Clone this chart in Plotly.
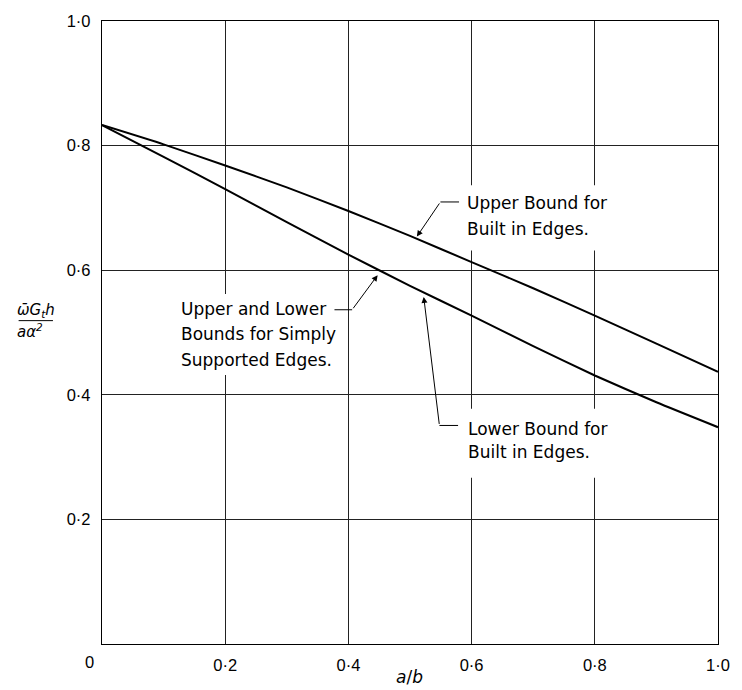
import plotly.graph_objects as go

# ---- data ----
ratio_ab = [0.0, 0.1, 0.2, 0.3, 0.4, 0.5, 0.6, 0.7, 0.8, 0.9, 1.0]
upper_built_in = [0.833, 0.802, 0.768, 0.733, 0.695, 0.655, 0.613, 0.571, 0.527, 0.482, 0.437]
lower_built_in = [0.833, 0.782, 0.730, 0.677, 0.625, 0.575, 0.527, 0.478, 0.431, 0.388, 0.348]

x_tick_vals = [0.2, 0.4, 0.6, 0.8, 1.0]
x_tick_text = ["0·2", "0·4", "0·6", "0·8", "1·0"]
y_tick_vals = [0.2, 0.4, 0.6, 0.8, 1.0]
y_tick_text = ["0·2", "0·4", "0·6", "0·8", "1·0"]

label_upper = ["Upper Bound for", "Built in Edges."]
label_simple = ["Upper and Lower", "Bounds for Simply", "Supported Edges."]
label_lower = ["Lower Bound for", "Built in Edges."]

FONT = "DejaVu Sans"
TICKFONT = "Liberation Sans"
L, R, T, B = 102, 12, 14, 46
W, H = 742, 690
PW, PH = W - L - R, H - T - B


def dx(px):
    return (px - L) / PW


def dy(py):
    return (H - B - py) / PH


fig = go.Figure()
for ys in (upper_built_in, lower_built_in):
    fig.add_trace(go.Scatter(x=ratio_ab, y=ys, mode="lines",
                             line=dict(color="black", width=2, shape="spline", smoothing=0.5),
                             showlegend=False, hoverinfo="skip"))

ann = []
shapes = []
XR, YR = "x domain", "y domain"


def gap(x0, x1, y0, y1):
    # the grid is broken where the labels sit (white patch, curves never pass here)
    shapes.append(dict(type="rect", xref=XR, yref=YR, x0=dx(x0), x1=dx(x1), y0=dy(y0), y1=dy(y1),
                       line=dict(width=0), fillcolor="white", layer="above"))


def text_lines(lines, x_px, y_px_list):
    for t, ypx in zip(lines, y_px_list):
        ann.append(dict(x=dx(x_px), y=dy(ypx), xref=XR, yref=YR, text=t, showarrow=False,
                        xanchor="left", yanchor="middle",
                        font=dict(family=FONT, size=17, color="black")))


def leader(h0, h1, tip):
    shapes.append(dict(type="line", xref=XR, yref=YR, x0=dx(h0[0]), y0=dy(h0[1]),
                       x1=dx(h1[0]), y1=dy(h1[1]), line=dict(color="black", width=1)))
    ann.append(dict(x=dx(tip[0]), y=dy(tip[1]), ax=dx(h0[0]), ay=dy(h0[1]),
                    xref=XR, yref=YR, axref=XR, ayref=YR, text="", showarrow=True,
                    arrowhead=2, arrowsize=1.2, arrowwidth=1, arrowcolor="black"))


gap(468, 618, 180, 246)
gap(220, 240, 290, 372)
gap(468, 618, 406, 476)

text_lines(label_upper, 472, [198, 224])
leader((447, 197), (466, 197), (423, 232))

text_lines(label_simple, 181, [305, 331, 357])
leader((357, 306), (339, 306), (383, 271))

text_lines(label_lower, 473, [427, 450])
leader((446, 423), (465, 423), (430, 293))

# x tick "0" placed left of the corner as in the reference
ann.append(dict(x=dx(89), y=dy(662), xref=XR, yref=YR, text="0", showarrow=False,
                xanchor="center", yanchor="middle",
                font=dict(family=TICKFONT, size=16.5, color="black")))

# axis titles
ann.append(dict(x=dx(415), y=dy(677), xref=XR, yref=YR, text="<i>a</i>/<i>b</i>",
                xanchor="center", yanchor="middle",
                showarrow=False, font=dict(family=FONT, size=17, color="black")))
ann.append(dict(x=dx(35), y=dy(307), xref=XR, yref=YR, text="<i>ω̄G<sub>t</sub>h</i>",
                xanchor="center", yanchor="middle",
                showarrow=False, font=dict(family=FONT, size=15, color="black")))
ann.append(dict(x=dx(29), y=dy(327), xref=XR, yref=YR, text="<i>aα<sup>2</sup></i>",
                xanchor="center", yanchor="middle",
                showarrow=False, font=dict(family=FONT, size=15, color="black")))
shapes.append(dict(type="line", xref=XR, yref=YR, x0=dx(17), x1=dx(52), y0=dy(317),
                   y1=dy(317), line=dict(color="black", width=1)))

fig.update_layout(
    width=W, height=H,
    margin=dict(l=L, r=R, t=T, b=B),
    paper_bgcolor="white", plot_bgcolor="white",
    annotations=ann, shapes=shapes,
    font=dict(family=FONT, size=16, color="black"),
)
fig.update_xaxes(range=[0, 1], tickvals=x_tick_vals, ticktext=x_tick_text, showgrid=True,
                 gridcolor="#222", gridwidth=1, showline=True, linecolor="black", linewidth=1.3,
                 mirror=True, zeroline=False, ticks="", ticklabelstandoff=6,
                 tickfont=dict(family=TICKFONT, size=16.5, color="black"))
fig.update_yaxes(range=[0, 1], tickvals=y_tick_vals, ticktext=y_tick_text, showgrid=True,
                 gridcolor="#222", gridwidth=1, showline=True, linecolor="black", linewidth=1.3,
                 mirror=True, zeroline=False, ticks="", ticklabelstandoff=7,
                 tickfont=dict(family=TICKFONT, size=16.5, color="black"))

fig.write_html("out.html", config={"displayModeBar": False},
               post_script="document.body.style.margin='0';document.body.style.overflow='hidden';")
